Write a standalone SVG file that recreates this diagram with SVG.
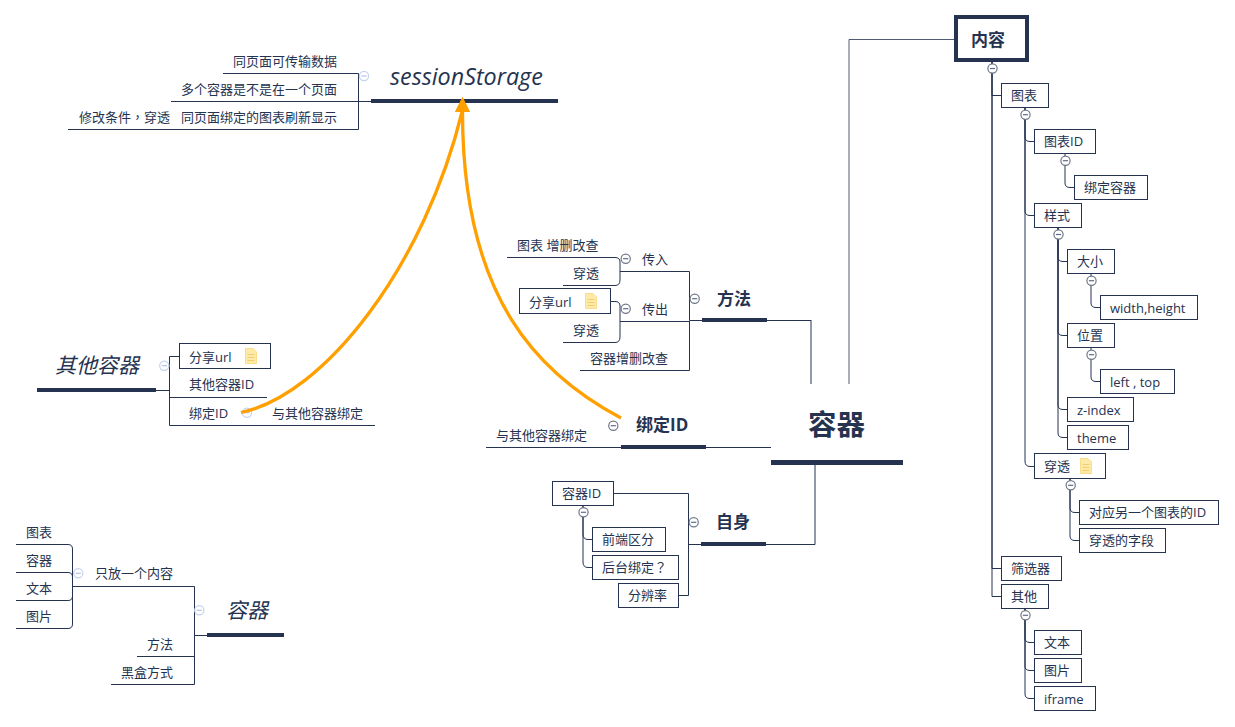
<svg xmlns="http://www.w3.org/2000/svg" width="1235" height="727" viewBox="0 0 1235 727">
<style>
text{font-family:"Open Sans","Noto Sans CJK SC",sans-serif;fill:#253350;font-size:13px}
.b{font-weight:700;font-size:17px}
.it{font-style:italic;font-size:21px}
.p{font-family:"Noto Sans CJK TC",sans-serif}
.box{fill:#fff;stroke:#253350;stroke-width:1}
.bar{fill:#253350}
.c path{fill:none;stroke:#253350;stroke-width:1}
.or{fill:none;stroke:#ffa000;stroke-width:3.3}
</style>
<defs>
<g id="minus"><circle r="4.6" fill="#fff" stroke="#6f7787" stroke-width="1.2"/><line x1="-2.6" x2="2.6" stroke="#5f6d8c" stroke-width="1.2"/></g>
<g id="minusL"><circle r="4.6" fill="#fff" stroke="#c5d2ee" stroke-width="1.2"/><line x1="-2.6" x2="2.6" stroke="#b4c4e6" stroke-width="1.2"/></g>
<g id="note"><path d="M0.5 0.500H8L11.500 4V15.500H0.500Z" fill="#fde9a8" stroke="#fbdc8c"/><path d="M2.500 6.500H9.500M2.500 9.500H9.500M2.500 12.500H9.500" stroke="#f5cf6e" stroke-width="1.2"/></g>
<marker id="arr" markerUnits="userSpaceOnUse" markerWidth="15" markerHeight="15" refX="7.500" refY="13" orient="0"><path d="M7.500 0L15 15H0Z" fill="#ffa000"/></marker>
</defs>
<g id="connectors" class="c">
<path d="M811 320.500H767"/><path d="M811 320V384"/>
<path d="M849 384V39.500H956" stroke-opacity=".8"/>
<path d="M815 465V544.500H766"/>
<path d="M771 447.500H486"/>
<path d="M702 320.500H689.500V271.500H620"/><path d="M689.500 321V370.500H580"/><path d="M689.500 321.500H620"/>
<path d="M620 271V262Q620 257.500 615 257.500H507"/><path d="M620 271V280Q620 285.500 615 285.500H563"/>
<path d="M620 321V306Q620 301.500 615 301.500H611"/><path d="M620 321V337Q620 342.500 615 342.500H563"/>
<path d="M701 544.500H688.500V493.500H614"/><path d="M688.500 544V595.500H679"/>
<path d="M583 506V534Q583 539.500 588 539.500H592"/><path d="M583 506V562Q583 567.500 588 567.500H592"/>
<path d="M371 101.500H171"/><path d="M358.500 101V73.500H223"/><path d="M358.500 101V129.500H68"/>
<path d="M156 390.500H169.500V356.500H179"/><path d="M169.500 390V397.500H267"/><path d="M169.500 390V425.500H375"/>
<path d="M207 635.500H194.500V586.500H73"/><path d="M194.500 635V656.500H137"/><path d="M194.500 635V684.500H111"/>
<path d="M72.500 586V549Q72.500 544.500 68 544.500H16"/><path d="M72.500 586V577Q72.500 572.500 68 572.500H16"/><path d="M72.500 586V596Q72.500 600.500 68 600.500H16"/><path d="M72.500 586V624Q72.500 628.500 68 628.500H16"/>
<path d="M992 62V95.500H1002"/><path d="M992 62V568.500H1002"/><path d="M992 62V596.500H1002"/>
<path d="M1025 108V137Q1025 141.500 1030 141.500H1035"/><path d="M1025 108V211Q1025 215.500 1030 215.500H1035"/><path d="M1025 108V461Q1025 466.500 1030 466.500H1035"/>
<path d="M1065 154V183Q1065 187.500 1070 187.500H1075"/>
<path d="M1058 228V257Q1058 261.500 1063 261.500H1068"/><path d="M1058 228V331Q1058 335.500 1063 335.500H1068"/><path d="M1058 228V405Q1058 409.500 1063 409.500H1068"/><path d="M1058 228V433Q1058 437.500 1063 437.500H1068"/>
<path d="M1091 274V303Q1091 307.500 1096 307.500H1101"/><path d="M1091 348V377Q1091 381.500 1096 381.500H1101"/>
<path d="M1070 479V508Q1070 512.500 1075 512.500H1080"/><path d="M1070 479V536Q1070 540.500 1075 540.500H1080"/>
<path d="M1025 609V638Q1025 642.500 1030 642.500H1035"/><path d="M1025 609V666Q1025 670.500 1030 670.500H1035"/><path d="M1025 609V694Q1025 698.500 1030 698.500H1035"/>
</g>
<g id="n-root"><rect class="bar" x="771" y="460" width="132" height="5"/><text class="b" x="808" y="435" style="font-size:28.500px">容器</text></g>
<g id="n-method"><rect class="bar" x="702" y="318" width="65" height="4"/><text class="b" x="717" y="305">方法</text><use href="#minus" x="694.700" y="298.700"/></g>
<g id="n-in"><text x="642" y="264">传入</text><use href="#minus" x="625.700" y="258.700"/></g>
<g id="n-in1"><text x="517" y="250">图表 增删改查</text></g>
<g id="n-in2"><text x="573" y="278">穿透</text></g>
<g id="n-out"><text x="642" y="314">传出</text><use href="#minus" x="625.700" y="308.700"/></g>
<g id="n-out1"><rect class="box" x="519.500" y="288.500" width="91" height="25"/><text x="529" y="306.500">分享url</text><use href="#note" x="585" y="293"/></g>
<g id="n-out2"><text x="573" y="335">穿透</text></g>
<g id="n-crud"><text x="590" y="363">容器增删改查</text></g>
<g id="n-bind"><rect class="bar" x="621" y="445" width="85" height="4"/><text class="b" x="636" y="431">绑定ID</text><use href="#minus" x="613.300" y="425.700"/></g>
<g id="n-bind1"><text x="496" y="440">与其他容器绑定</text></g>
<g id="n-self"><rect class="bar" x="701" y="542" width="65" height="4"/><text class="b" x="716" y="528">自身</text><use href="#minus" x="693.700" y="522.300"/></g>
<g id="n-cid"><rect class="box" x="552.500" y="481.500" width="61" height="24"/><text x="562" y="498">容器ID</text><use href="#minus" x="583.500" y="512.300"/></g>
<g id="n-s1"><rect class="box" x="592.500" y="527.500" width="73" height="24"/><text x="602" y="544">前端区分</text></g>
<g id="n-s2"><rect class="box" x="592.500" y="555.500" width="86" height="24"/><text x="602" y="572">后台绑定<tspan class="p">？</tspan></text></g>
<g id="n-s3"><rect class="box" x="618.500" y="583.500" width="60" height="24"/><text x="628" y="600">分辨率</text></g>
<g id="n-ss"><rect class="bar" x="371" y="99" width="187" height="4"/><text class="it" x="390" y="85" style="font-size:23.300px">sessionStorage</text><use href="#minusL" x="364" y="76"/></g>
<g id="n-ss1"><text x="233" y="66">同页面可传输数据</text></g>
<g id="n-ss2"><text x="181" y="94">多个容器是不是在一个页面</text></g>
<g id="n-ss3"><text x="181" y="122">同页面绑定的图表刷新显示</text></g>
<g id="n-ss4"><text x="79" y="122">修改条件<tspan class="p">，</tspan>穿透</text></g>
<g id="n-other"><rect class="bar" x="37" y="388" width="119" height="4"/><text class="it" x="55" y="373">其他容器</text><use href="#minusL" x="164.300" y="365.700"/></g>
<g id="n-o1"><rect class="box" x="179.500" y="343.500" width="91" height="25"/><text x="189" y="362">分享url</text><use href="#note" x="245" y="348"/></g>
<g id="n-o2"><text x="189" y="389">其他容器ID</text></g>
<g id="n-o3"><text x="189" y="418">绑定ID</text><use href="#minusL" x="247" y="412.700"/></g>
<g id="n-o4"><text x="272" y="418">与其他容器绑定</text></g>
<g id="n-box"><rect class="bar" x="207" y="633" width="77" height="4"/><text class="it" x="226" y="618">容器</text><use href="#minusL" x="199.300" y="610.300"/></g>
<g id="n-b1"><text x="95" y="578">只放一个内容</text><use href="#minusL" x="78.300" y="573.300"/></g>
<g id="n-b2"><text x="147" y="649">方法</text></g>
<g id="n-b3"><text x="121" y="677">黑盒方式</text></g>
<g id="n-l1"><text x="26" y="537">图表</text></g>
<g id="n-l2"><text x="26" y="565">容器</text></g>
<g id="n-l3"><text x="26" y="593">文本</text></g>
<g id="n-l4"><text x="26" y="621">图片</text></g>
<g id="n-content"><rect x="956" y="17" width="71" height="43" fill="#fff" stroke="#253350" stroke-width="4"/><text class="b" x="971" y="46">内容</text><use href="#minus" x="992.500" y="68.500"/></g>
<g id="n-chart"><rect class="box" x="1001.500" y="83.500" width="47" height="24"/><text x="1011" y="100">图表</text><use href="#minus" x="1025.500" y="114.700"/></g>
<g id="n-chartid"><rect class="box" x="1034.500" y="129.500" width="61" height="24"/><text x="1044" y="146">图表ID</text><use href="#minus" x="1065.500" y="160.700"/></g>
<g id="n-bindc"><rect class="box" x="1074.500" y="175.500" width="73" height="24"/><text x="1084" y="192">绑定容器</text></g>
<g id="n-style"><rect class="box" x="1034.500" y="203.500" width="47" height="24"/><text x="1044" y="220">样式</text><use href="#minus" x="1058.500" y="234.500"/></g>
<g id="n-size"><rect class="box" x="1067.500" y="249.500" width="47" height="24"/><text x="1077" y="266">大小</text><use href="#minus" x="1091.500" y="280.700"/></g>
<g id="n-wh"><rect class="box" x="1100.500" y="295.500" width="97" height="24"/><text x="1110" y="313">width,height</text></g>
<g id="n-pos"><rect class="box" x="1067.500" y="323.500" width="47" height="24"/><text x="1077" y="340">位置</text><use href="#minus" x="1091.500" y="354.700"/></g>
<g id="n-lt"><rect class="box" x="1100.500" y="369.500" width="74" height="24"/><text x="1110" y="387">left , top</text></g>
<g id="n-z"><rect class="box" x="1067.500" y="397.500" width="66" height="24"/><text x="1077" y="415">z-index</text></g>
<g id="n-theme"><rect class="box" x="1067.500" y="425.500" width="61" height="24"/><text x="1077" y="443">theme</text></g>
<g id="n-pen"><rect class="box" x="1034.500" y="453.500" width="71" height="25"/><text x="1044" y="471">穿透</text><use href="#note" x="1080" y="458"/><use href="#minus" x="1070.700" y="485.300"/></g>
<g id="n-p1"><rect class="box" x="1079.500" y="500.500" width="139" height="24"/><text x="1089" y="517">对应另一个图表的ID</text></g>
<g id="n-p2"><rect class="box" x="1079.500" y="528.500" width="86" height="24"/><text x="1089" y="545">穿透的字段</text></g>
<g id="n-filter"><rect class="box" x="1001.500" y="556.500" width="60" height="24"/><text x="1011" y="573">筛选器</text></g>
<g id="n-oth"><rect class="box" x="1001.500" y="584.500" width="47" height="24"/><text x="1011" y="601">其他</text><use href="#minus" x="1025.500" y="615.300"/></g>
<g id="n-t"><rect class="box" x="1034.500" y="630.500" width="47" height="24"/><text x="1044" y="647">文本</text></g>
<g id="n-i"><rect class="box" x="1034.500" y="658.500" width="47" height="24"/><text x="1044" y="675">图片</text></g>
<g id="n-f"><rect class="box" x="1034.500" y="686.500" width="61" height="24"/><text x="1044" y="704">iframe</text></g>
<g id="relations">
<path class="or" d="M621 418C540 375 462 300 462.500 110" marker-end="url(#arr)"/>
<path class="or" d="M241 412.500C325 395 425 265 462.500 110" marker-end="url(#arr)"/>
</g>
</svg>
